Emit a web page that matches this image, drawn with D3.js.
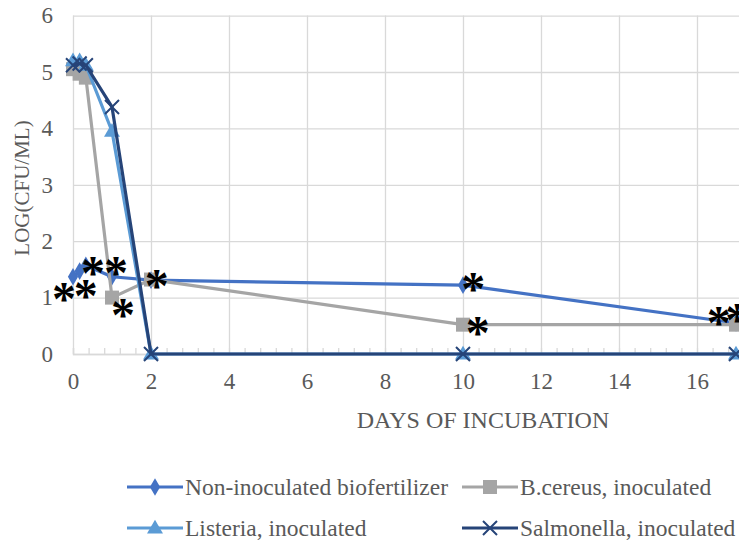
<!DOCTYPE html>
<html>
<head>
<meta charset="utf-8">
<script src="https://cdn.jsdelivr.net/npm/d3@7"></script>
<style>
  html, body { margin: 0; padding: 0; background: #fff; }
  svg { display: block; }
  svg text { font-family: "Liberation Serif", "Times New Roman", serif; }
</style>
</head>
<body>
<svg id="chart" width="739" height="542"></svg>
<script>
// Sampling days and log counts per treatment
const days = [0, 0.17, 0.33, 1, 2, 10, 17];
const nonInoculated = [1.37, 1.47, 1.57, 1.37, 1.31, 1.22, 0.55];
const bCereus = [5.05, 4.97, 4.9, 1.0, 1.32, 0.52, 0.52];
const listeria = [5.2, 5.2, 5.12, 3.95, 0, 0, 0];
const salmonella = [5.12, 5.15, 5.12, 4.38, 0, 0, 0];

const seriesNames = ["Non-inoculated biofertilizer", "B.cereus, inoculated", "Listeria, inoculated", "Salmonella, inoculated"];
const seriesColors = ["#4472C4", "#A5A5A5", "#5B9BD5", "#264478"];
const seriesSymbols = ["diamond", "square", "triangle", "cross"];

const xTicks = [0, 2, 4, 6, 8, 10, 12, 14, 16];
const yTicks = [0, 1, 2, 3, 4, 5, 6];

// Significance marks (day, log value) placed beside points
const starDays = [-0.23, 0.33, 0.51, 1.1, 1.28, 2.15, 10.26, 10.38, 16.56, 17.03];
const starValues = [1.11, 1.17, 1.58, 1.58, 0.83, 1.35, 1.29, 0.51, 0.69, 0.74];

const svg = d3.select("#chart");
const x = d3.scaleLinear().domain([0, 18]).range([73, 73 + 18 * 39]);
const y = d3.scaleLinear().domain([0, 6]).range([354, 15.6]);

const gridColor = "#D9D9D9";
const textColor = "#595959";
const serif = "Liberation Serif";

// Gridlines
svg.append("g")
  .attr("transform", `translate(0,${y(0)})`)
  .call(d3.axisBottom(x).tickValues([0, 2, 4, 6, 8, 10, 12, 14, 16, 18]).tickSize(-(y(0) - y(6))).tickFormat(""))
  .call(g => g.select(".domain").remove())
  .call(g => g.selectAll("line").attr("stroke", gridColor).attr("stroke-width", 1.3));
svg.append("g")
  .attr("transform", `translate(${x(0)},0)`)
  .call(d3.axisLeft(y).tickValues(yTicks).tickSize(-(x(18) - x(0))).tickFormat(""))
  .call(g => g.select(".domain").remove())
  .call(g => g.selectAll("line").attr("stroke", gridColor).attr("stroke-width", 1.3));

// X axis with minor ticks
const minorTicks = d3.range(0, 18.01, 0.4);
svg.append("g")
  .attr("transform", `translate(0,${y(0)})`)
  .call(d3.axisBottom(x).tickValues(minorTicks).tickSize(-6).tickFormat(""))
  .call(g => g.select(".domain").attr("stroke", gridColor).attr("stroke-width", 1.5))
  .call(g => g.selectAll("line").attr("stroke", gridColor).attr("stroke-width", 1.3));

// Tick labels
svg.append("g")
  .attr("transform", `translate(0,${y(0)})`)
  .call(d3.axisBottom(x).tickValues(xTicks).tickSize(0).tickPadding(19).tickFormat(d3.format("d")))
  .call(g => g.select(".domain").remove())
  .call(g => g.selectAll("text").attr("fill", textColor).attr("font-size", 23).attr("font-family", serif));
svg.append("g")
  .attr("transform", `translate(${x(0) - 9},0)`)
  .call(d3.axisLeft(y).tickValues(yTicks).tickSize(0).tickPadding(11).tickFormat(d3.format("d")))
  .call(g => g.select(".domain").remove())
  .call(g => g.selectAll("text").attr("fill", textColor).attr("font-size", 23).attr("font-family", serif));

// Axis titles
svg.append("text")
  .attr("x", 483).attr("y", 428)
  .attr("text-anchor", "middle")
  .attr("font-family", serif)
  .attr("fill", textColor).attr("font-size", 24)
  .text("DAYS OF INCUBATION");
svg.append("text")
  .attr("transform", `translate(29,188) rotate(-90)`)
  .attr("text-anchor", "middle")
  .attr("font-family", serif)
  .attr("fill", textColor).attr("font-size", 21)
  .text("LOG(CFU/ML)");

// Marker drawing
function drawMarker(g, type, color, cx, cy) {
  if (type === "diamond") {
    g.append("path").attr("d", d3.symbol(d3.symbolDiamond, 90)()).attr("transform", `translate(${cx},${cy})`).attr("fill", color);
  } else if (type === "square") {
    g.append("rect").attr("x", cx - 7).attr("y", cy - 7).attr("width", 14).attr("height", 14).attr("fill", color);
  } else if (type === "triangle") {
    g.append("path").attr("d", d3.symbol(d3.symbolTriangle, 110)()).attr("transform", `translate(${cx},${cy + 1})`).attr("fill", color);
  } else {
    const s = 7;
    g.append("path")
      .attr("d", `M${cx - s},${cy - s}L${cx + s},${cy + s}M${cx - s},${cy + s}L${cx + s},${cy - s}`)
      .attr("stroke", color).attr("stroke-width", 2).attr("fill", "none");
  }
}

const allSeries = [nonInoculated, bCereus, listeria, salmonella];
const line = d3.line().x((d, i) => x(days[i])).y(d => y(d));

const plot = svg.append("g");
allSeries.forEach((vals, si) => {
  const g = plot.append("g");
  g.append("path")
    .datum(vals)
    .attr("d", line)
    .attr("fill", "none")
    .attr("stroke", seriesColors[si])
    .attr("stroke-width", 3.2)
    .attr("stroke-linejoin", "round");
  vals.forEach((v, i) => drawMarker(g, seriesSymbols[si], seriesColors[si], x(days[i]), y(v)));
});

// Asterisks
svg.append("g").selectAll("text")
  .data(starDays)
  .join("text")
  .attr("x", d => x(d))
  .attr("y", (d, i) => y(starValues[i]))
  .attr("dy", 24)
  .attr("text-anchor", "middle")
  .attr("font-family", serif)
  .attr("font-size", 48)
  .attr("font-weight", "bold")
  .attr("fill", "#000")
  .text("*");

// Legend
const legendItems = [
  { i: 0, x: 127, y: 487 },
  { i: 1, x: 462, y: 487 },
  { i: 2, x: 127, y: 528 },
  { i: 3, x: 462, y: 528 }
];
const legend = svg.append("g");
legendItems.forEach(it => {
  const g = legend.append("g");
  g.append("line")
    .attr("x1", it.x).attr("x2", it.x + 56)
    .attr("y1", it.y).attr("y2", it.y)
    .attr("stroke", seriesColors[it.i]).attr("stroke-width", 3.2);
  drawMarker(g, seriesSymbols[it.i], seriesColors[it.i], it.x + 28, it.y);
  g.append("text")
    .attr("x", it.x + 58).attr("y", it.y)
    .attr("dy", "0.35em")
    .attr("font-family", serif)
    .attr("fill", textColor).attr("font-size", 23.5)
    .text(seriesNames[it.i]);
});
</script>
</body>
</html>
